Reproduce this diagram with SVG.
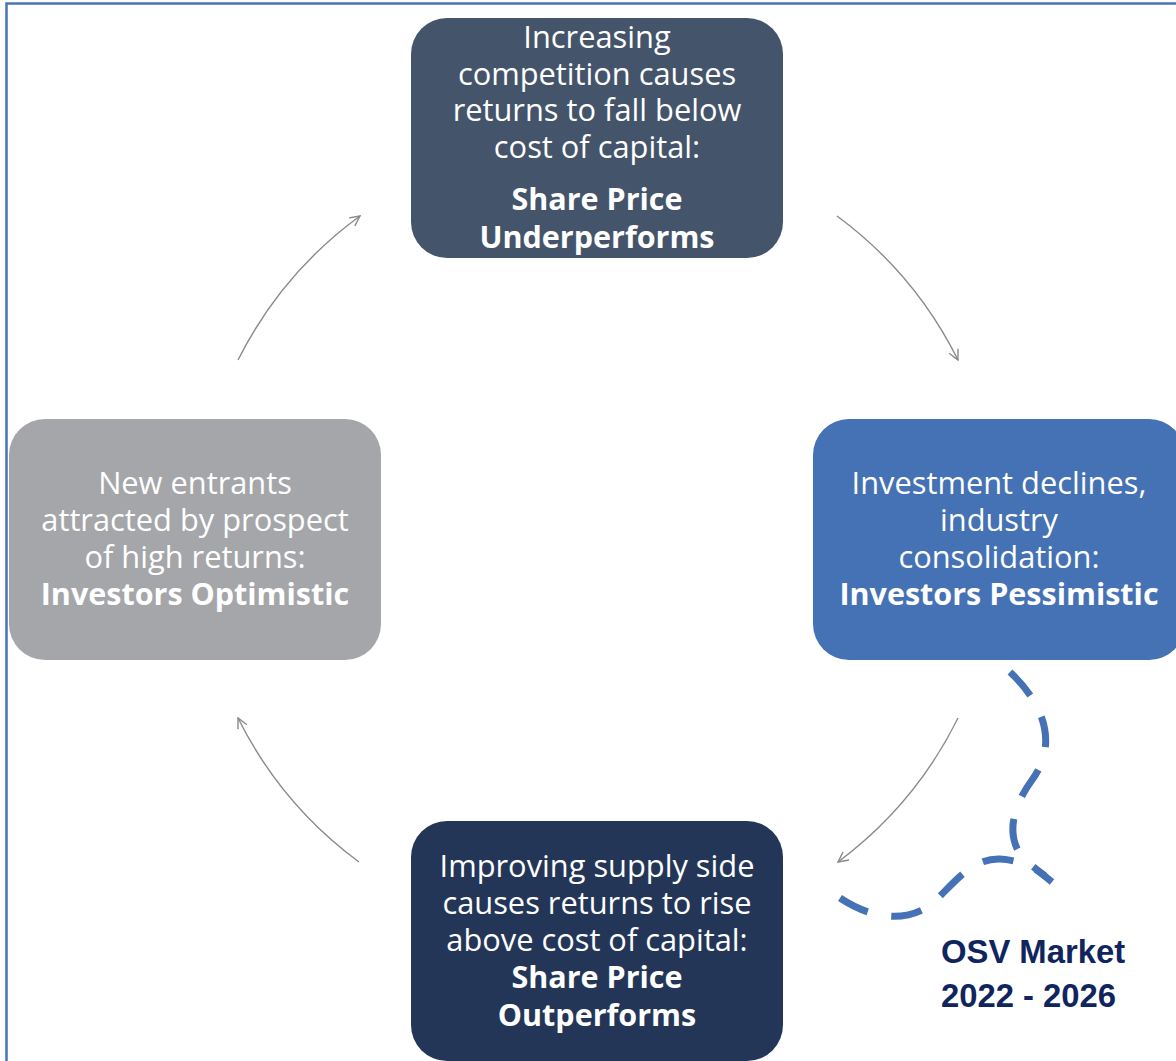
<svg xmlns="http://www.w3.org/2000/svg" width="1176" height="1061" viewBox="0 0 1176 1061">
  <style>
    .box-text { font-family: "Open Sans", "Noto Sans", sans-serif; font-size: 30.8px; fill: #ffffff; text-anchor: middle; font-variant-ligatures: none; }
    .bold { font-weight: 700; font-size: 30.5px; }
    .arc { fill: none; stroke: #8a8a8a; stroke-width: 1.4; marker-end: url(#open-arrow); }
    .dash { fill: none; stroke: #4571b5; stroke-width: 7; stroke-dasharray: 31 24; }
    .note { font-family: "Liberation Sans", Arial, sans-serif; font-size: 32.8px; font-weight: 700; fill: #10255e; }
  </style>
  <defs>
    <marker id="open-arrow" viewBox="0 0 12 12" refX="11" refY="6" markerWidth="12" markerHeight="12" markerUnits="userSpaceOnUse" orient="auto">
      <path d="M1,1 L11,6 L1,11" fill="none" stroke="#8a8a8a" stroke-width="1.4"/>
    </marker>
  </defs>

  <rect width="1176" height="1061" fill="#ffffff"/>

  <!-- frame -->
  <path d="M6.5,1070 L6.5,3.5 L1180,3.5" fill="none" stroke="#4a74b8" stroke-width="2.5"/>

  <!-- connectors: arcs of the cycle and the highlight loop -->
  <g id="connectors">
    <path class="arc" d="M238,360 A401,401 0 0 1 360,216"/>
    <path class="arc" d="M837,216 A401,401 0 0 1 958,360"/>
    <path class="arc" d="M958,718 A401,401 0 0 1 838,862"/>
    <path class="arc" d="M359,862 A401,401 0 0 1 238,718"/>
    <path class="dash" d="M1010,672 C1045,705 1058,745 1032,780 C1010,810 1006,840 1025,860 L1052,882"/>
    <path class="dash" d="M840,898 C870,918 905,924 932,904 C955,882 972,858 1000,859 C1020,860 1035,868 1045,876"/>
  </g>

  <g id="node-underperforms">
    <rect x="411" y="18" width="372" height="240" rx="36" fill="#44546a"/>
    <text class="box-text" x="597" y="48">Increasing</text>
    <text class="box-text" x="597" y="85">competition causes</text>
    <text class="box-text" x="597" y="121">returns to fall below</text>
    <text class="box-text" x="597" y="158">cost of capital:</text>
    <text class="box-text bold" x="597" y="210">Share Price</text>
    <text class="box-text bold" x="597" y="248">Underperforms</text>
  </g>

  <g id="node-pessimistic">
    <rect x="813" y="419" width="372" height="241" rx="36" fill="#4571b5"/>
    <text class="box-text" x="999" y="494">Investment declines,</text>
    <text class="box-text" x="999" y="531">industry</text>
    <text class="box-text" x="999" y="568">consolidation:</text>
    <text class="box-text bold" x="999" y="605">Investors Pessimistic</text>
  </g>

  <g id="node-outperforms">
    <rect x="411" y="821" width="372" height="240" rx="36" fill="#233658"/>
    <text class="box-text" x="597" y="877">Improving supply side</text>
    <text class="box-text" x="597" y="914">causes returns to rise</text>
    <text class="box-text" x="597" y="951">above cost of capital:</text>
    <text class="box-text bold" x="597" y="988">Share Price</text>
    <text class="box-text bold" x="597" y="1026">Outperforms</text>
  </g>

  <g id="node-optimistic">
    <rect x="9" y="419" width="372" height="241" rx="36" fill="#a5a6a9"/>
    <text class="box-text" x="195" y="494">New entrants</text>
    <text class="box-text" x="195" y="531">attracted by prospect</text>
    <text class="box-text" x="195" y="568">of high returns:</text>
    <text class="box-text bold" x="195" y="605">Investors Optimistic</text>
  </g>

  <g id="label-osv">
    <text class="note" x="941" y="963">OSV Market</text>
    <text class="note" x="941" y="1007">2022 - 2026</text>
  </g>
</svg>
